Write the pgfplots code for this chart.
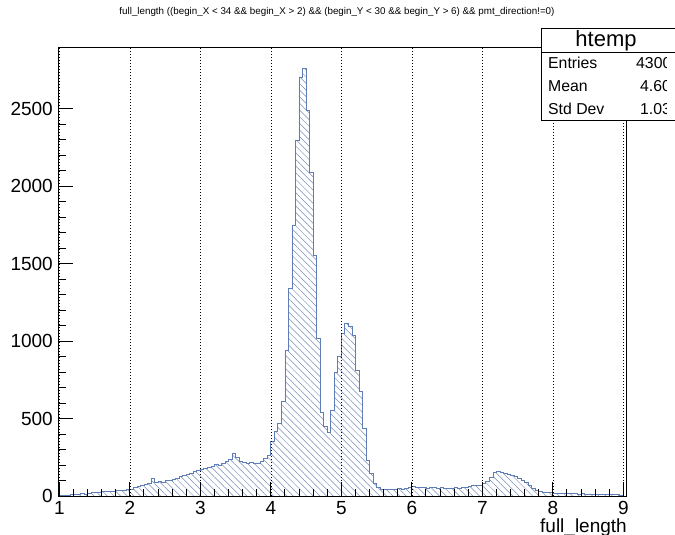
\documentclass[border=0pt]{standalone}
\usepackage{fontspec}
\setmainfont{Liberation Sans}
\usepackage{pgfplots}
\usepackage{pgfplotstable}
\pgfplotsset{compat=1.18}
\usetikzlibrary{patterns.meta}

\definecolor{histline}{RGB}{96,126,182}
\definecolor{hatchcol}{RGB}{118,140,184}

% full_length histogram, 160 bins of width 0.05 (left bin edge, count)
\pgfplotstableread{
x y
1.00 4
1.05 6
1.10 5
1.15 9
1.20 8
1.25 12
1.30 14
1.35 13
1.40 19
1.45 22
1.50 26
1.55 24
1.60 30
1.65 28
1.70 33
1.75 31
1.80 36
1.85 34
1.90 38
1.95 40
2.00 45
2.05 55
2.10 62
2.15 66
2.20 75
2.25 82
2.30 114
2.35 86
2.40 92
2.45 90
2.50 98
2.55 104
2.60 110
2.65 116
2.70 126
2.75 132
2.80 140
2.85 148
2.90 156
2.95 164
3.00 170
3.05 176
3.10 185
3.15 192
3.20 205
3.25 200
3.30 214
3.35 222
3.40 238
3.45 274
3.50 250
3.55 226
3.60 216
3.65 212
3.70 220
3.75 208
3.80 214
3.85 226
3.90 240
3.95 262
4.00 351
4.05 415
4.10 470
4.15 609
4.20 943
4.25 1342
4.30 1749
4.35 2298
4.40 2707
4.45 2762
4.50 2492
4.55 2093
4.60 1555
4.65 1019
4.70 540
4.75 450
4.80 410
4.85 555
4.90 800
4.95 900
5.00 1050
5.05 1115
5.10 1094
5.15 1040
5.20 814
5.25 673
5.30 437
5.35 232
5.40 147
5.45 82
5.50 55
5.55 42
5.60 40
5.65 43
5.70 41
5.75 46
5.80 48
5.85 45
5.90 52
5.95 56
6.00 60
6.05 55
6.10 58
6.15 56
6.20 52
6.25 57
6.30 53
6.35 50
6.40 54
6.45 48
6.50 52
6.55 49
6.60 54
6.65 52
6.70 58
6.75 56
6.80 63
6.85 66
6.90 72
6.95 70
7.00 80
7.05 95
7.10 122
7.15 152
7.20 158
7.25 150
7.30 146
7.35 140
7.40 136
7.45 126
7.50 116
7.55 104
7.60 88
7.65 72
7.70 48
7.75 34
7.80 30
7.85 26
7.90 24
7.95 22
8.00 19
8.05 17
8.10 18
8.15 15
8.20 16
8.25 14
8.30 15
8.35 13
8.40 14
8.45 12
8.50 13
8.55 11
8.60 12
8.65 10
8.70 11
8.75 9
8.80 10
8.85 9
8.90 8
8.95 7
9.00 7
}\histdata

\begin{document}
\begin{tikzpicture}
\useasboundingbox (-58.6pt,-39pt) rectangle (616.4pt,496pt);
\begin{axis}[
  scale only axis,
  width=567.5pt, height=449pt,
  xmin=0.99, xmax=9.04, ymin=0, ymax=2900,
  xtick={1,...,9}, ytick={0,500,...,2500},
  minor x tick num=4, minor y tick num=4,
  xtick pos=bottom, ytick pos=left, tick align=inside,
  major tick length=14pt, minor tick length=7pt,
  xmajorgrids,
  major x grid style={black, line width=0.55pt, dash pattern=on 0.8pt off 2.2pt},
  axis line style={black, line width=0.9pt},
  tick style={black, line width=0.9pt},
  ticklabel style={font=\fontsize{19}{19}\selectfont},
  xticklabel style={anchor=north, inner sep=0pt, yshift=-5.3pt},
  yticklabel style={anchor=east, inner sep=0pt, xshift=-5.6pt},
  /pgf/number format/assume math mode=true,
  /pgf/number format/1000 sep={},
  scaled y ticks=false,
  axis on top,
]
\addplot[const plot, draw=histline, line width=0.7pt,
  pattern={Lines[angle=-45, distance=4.7pt, line width=0.5pt]},
  pattern color=hatchcol]
  table[x=x, y=y]{\histdata} \closedcycle;
\end{axis}

% title
\node[font=\fontsize{9.8}{9.8}\selectfont] at (278.4pt,484pt)
  {full\_length ((begin\_X < 34 \&\& begin\_X > 2) \&\& (begin\_Y < 30 \&\& begin\_Y > 6) \&\& pmt\_direction!=0)};

% x axis title
\node[anchor=base east, inner sep=0pt, font=\fontsize{19}{19}\selectfont] at (568.4pt,-36.7pt) {full\_length};

% statistics box (its right part runs past the edge of the canvas)
\fill[white] (482.4pt,376pt) rectangle (616.4pt,468pt);
\draw[black, line width=0.8pt] (616.4pt,468pt) -- (482.4pt,468pt) -- (482.4pt,376pt) -- (616.4pt,376pt);
\draw[black, line width=0.8pt] (482.4pt,444pt) -- (616.4pt,444pt);
\node[anchor=base, inner sep=0pt, font=\fontsize{22}{22}\selectfont] at (547.4pt,449pt) {htemp};
\node[anchor=base west, inner sep=0pt, font=\fontsize{15.8}{15.8}\selectfont] at (489.4pt,427.3pt) {Entries};
\node[anchor=base west, inner sep=0pt, font=\fontsize{15.8}{15.8}\selectfont] at (489.4pt,404.3pt) {Mean};
\node[anchor=base west, inner sep=0pt, font=\fontsize{15.8}{15.8}\selectfont] at (489.4pt,381.3pt) {Std Dev};
\begin{scope}
  \clip (482.4pt,370pt) rectangle (607.4pt,470pt);
  \node[anchor=base west, inner sep=0pt, font=\fontsize{15.8}{15.8}\selectfont] at (577.4pt,427.3pt) {43006};
  \node[anchor=base west, inner sep=0pt, font=\fontsize{15.8}{15.8}\selectfont] at (581.4pt,404.3pt) {4.602};
  \node[anchor=base west, inner sep=0pt, font=\fontsize{15.8}{15.8}\selectfont] at (581.4pt,381.3pt) {1.032};
\end{scope}
\end{tikzpicture}
\end{document}
